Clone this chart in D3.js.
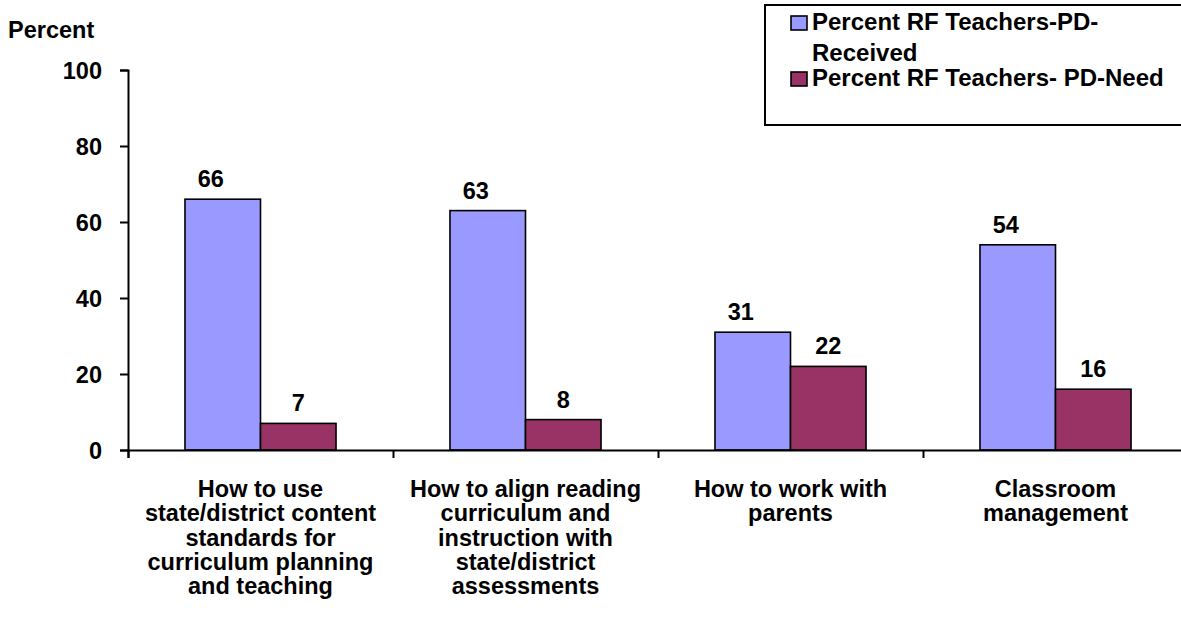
<!DOCTYPE html>
<html lang="en">
  <head>
    <meta charset="UTF-8" />
    <title>RF Teachers PD received vs need</title>
    <script src="https://d3js.org/d3.v7.min.js"></script>
    <style>
      body { margin: 0; background: #fff; }
      svg { display: block; }
      text { font-family: Arial, "Liberation Sans", sans-serif; font-weight: bold; fill: #000; }
    </style>
  </head>
  <body>
    <svg id="chart" width="1181" height="622"></svg>
    <script>
      // data
      const categories = [
        ["How to use", "state/district content", "standards for", "curriculum planning", "and teaching"],
        ["How to align reading", "curriculum and", "instruction with", "state/district", "assessments"],
        ["How to work with", "parents"],
        ["Classroom", "management"],
      ];
      const seriesNames = ["Percent RF Teachers-PD-Received", "Percent RF Teachers- PD-Need"];
      const received = [66, 63, 31, 54];
      const need = [7, 8, 22, 16];
      const yTicks = [0, 20, 40, 60, 80, 100];
      const colors = ["#9999ff", "#993366"];

      const fs = "23.5px";
      const svg = d3.select("#chart");
      const plotL = 128, plotR = 1188, plotT = 70, plotB = 450;

      const catKeys = categories.map((d, i) => i);
      const x0 = d3.scaleBand().domain(catKeys).range([plotL, plotR])
        .paddingInner(0.43).paddingOuter(0.215);
      const x1 = d3.scaleBand().domain([0, 1]).range([0, x0.bandwidth()]);
      const y = d3.scaleLinear().domain([0, 100]).range([plotB, plotT]);

      // bars
      const rows = catKeys.map(i => [received[i], need[i]]);
      const groups = svg.append("g").selectAll("g").data(rows).join("g")
        .attr("transform", (d, i) => `translate(${x0(i)},0)`);

      groups.selectAll("rect").data(d => d).join("rect")
        .attr("x", (d, j) => x1(j))
        .attr("y", d => y(d))
        .attr("width", x1.bandwidth())
        .attr("height", d => y(0) - y(d))
        .attr("fill", (d, j) => colors[j])
        .attr("stroke", "#000")
        .attr("stroke-width", 1.6);

      // value labels (Excel put the received ones a bit left of centre)
      groups.selectAll("text.val").data(d => d).join("text")
        .attr("class", "val")
        .attr("x", (d, j) => x1(j) + x1.bandwidth() / 2 + (j === 0 ? -12 : 0))
        .attr("y", d => y(d) - 12)
        .attr("text-anchor", "middle")
        .style("font-size", fs)
        .text(d => d);

      // y axis
      const yAxis = svg.append("g")
        .attr("transform", `translate(${plotL},0)`)
        .call(d3.axisLeft(y).tickValues(yTicks).tickSize(8).tickPadding(18));
      yAxis.select(".domain").attr("stroke", "#000").attr("stroke-width", 2);
      yAxis.selectAll(".tick line").attr("stroke", "#000").attr("stroke-width", 2);
      yAxis.selectAll(".tick text")
        .style("font-size", fs)
        .style("font-family", "Arial, 'Liberation Sans', sans-serif")
        .style("font-weight", "bold")
        .attr("dy", "0.36em");

      // x axis: ticks on the category boundaries
      const xEdge = d3.scaleLinear().domain([0, categories.length]).range([plotL, plotR]);
      const xAxis = svg.append("g")
        .attr("transform", `translate(0,${plotB})`)
        .call(d3.axisBottom(xEdge).tickValues(d3.range(categories.length + 1))
          .tickSize(8).tickFormat(""));
      xAxis.select(".domain").attr("stroke", "#000").attr("stroke-width", 2);
      xAxis.selectAll(".tick line").attr("stroke", "#000").attr("stroke-width", 2);

      // category labels
      svg.append("g").selectAll("text").data(categories).join("text")
        .attr("x", (d, i) => x0(i) + x0.bandwidth() / 2)
        .attr("y", 497)
        .attr("text-anchor", "middle")
        .style("font-size", fs)
        .selectAll("tspan").data(d => d).join("tspan")
        .attr("x", function () { return this.parentNode.getAttribute("x"); })
        .attr("dy", (d, k) => (k === 0 ? 0 : 24.3))
        .text(d => d);

      // axis title
      svg.append("text").attr("x", 8).attr("y", 38)
        .style("font-size", fs).text("Percent");

      // legend
      const legend = svg.append("g");
      legend.append("rect")
        .attr("x", 765).attr("y", 5).attr("width", 430).attr("height", 120)
        .attr("fill", "#fff").attr("stroke", "#000").attr("stroke-width", 2);
      const legendRows = [
        { lines: ["Percent RF Teachers-PD-", "Received"], y: 30 },
        { lines: ["Percent RF Teachers- PD-Need"], y: 86 },
      ];
      legendRows.forEach((r, j) => {
        legend.append("rect")
          .attr("x", 791).attr("y", r.y - 14).attr("width", 16).attr("height", 14)
          .attr("fill", colors[j]).attr("stroke", "#000").attr("stroke-width", 1.6);
        const t = legend.append("text").attr("x", 812).attr("y", r.y)
          .style("font-size", "24px");
        t.selectAll("tspan").data(r.lines).join("tspan")
          .attr("x", 812).attr("dy", (d, k) => (k === 0 ? 0 : 31))
          .text(d => d);
      });
    </script>
  </body>
</html>
